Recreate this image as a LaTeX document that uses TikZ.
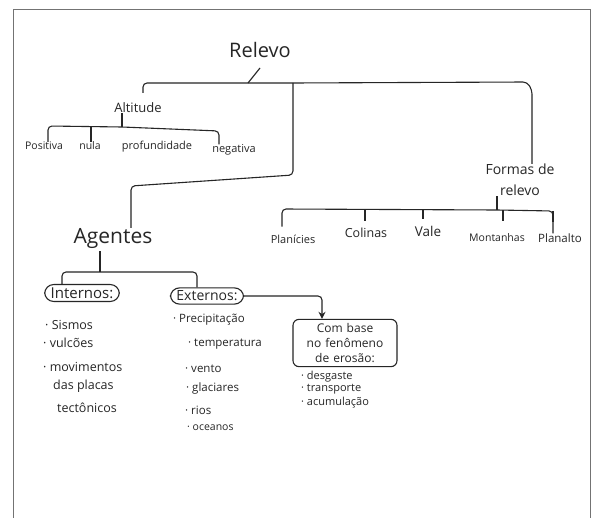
\documentclass[tikz,border=0pt]{standalone}
\usepackage{fontspec}
\setmainfont{Open Sans}
\usetikzlibrary{arrows.meta}
\begin{document}
\begin{tikzpicture}[x=1pt,y=-1pt,
  ink/.style={draw=black!85, line width=1.1pt, rounded corners=4pt},
  frame/.style={draw=black!55, line width=0.9pt},
  lbl/.style={inner sep=0pt, text=black!85, font=\fontsize{#1}{#1}\selectfont},
  lbl/.default=11,
  item/.style={inner sep=0pt, anchor=west, text=black!85, font=\fontsize{#1}{#1}\selectfont},
  item/.default=12,
  pill/.style={draw=black!85, line width=1.1pt, rounded corners=9pt, inner xsep=6pt, inner ysep=3pt, text=black!85, font=\fontsize{#1}{#1}\selectfont},
  boxc/.style={draw=black!85, line width=1.1pt, rounded corners=6pt, inner xsep=6pt, inner ysep=4pt, align=center, text=black!85, font=\fontsize{12}{15}\selectfont}
]
\useasboundingbox (0,0) rectangle (596,518);
\fill[white] (0,0) rectangle (596,518);
\draw[frame] (13,518) -- (13,9) -- (590,9) -- (590,518);

% top level
\node[lbl=20] (relevo) at (260,50) {Relevo};
\node[lbl=13] (altitude) at (138,108) {Altitude};
\node[lbl=14, align=center, font=\fontsize{14}{21}\selectfont] (formas) at (520,180) {Formas de\\relevo};
\node[lbl=21] (agentes) at (113,238) {Agentes};

% altitude children
\node[lbl=10.5] (positiva) at (44,146) {Positiva};
\node[lbl=10.5] (nula) at (90,146) {nula};
\node[lbl=11] (prof) at (157,147) {profundidade};
\node[lbl=11] (negativa) at (234,150) {negativa};

% formas children
\node[lbl=11] (planicies) at (293,239) {Planícies};
\node[lbl=12.5] (colinas) at (366,233) {Colinas};
\node[lbl=13.5] (vale) at (428,231) {Vale};
\node[lbl=10.5] (montanhas) at (497,238) {Montanhas};
\node[lbl=11.5] (planalto) at (560,238) {Planalto};

% agentes children
\node[pill=15] (internos) at (82,293) {Internos:};
\node[pill=14] (externos) at (207,296) {Externos:};
\node[boxc, text width=92pt] (combase) at (345,343) {Com base\\no fenômeno\\de erosão:};

% lists
\node[item=12.5] (i1) at (45,325) {· Sismos};
\node[item=12.5] (i2) at (43,343) {· vulcões};
\node[item=12.5] (i3) at (43,367) {· movimentos};
\node[item=12.5] (i4) at (53,386) {das placas};
\node[item=12.5] (i5) at (57,408) {tectônicos};

\node[item=11.5] (e1) at (173,320) {· Precipitação};
\node[item=11.5] (e2) at (188,344) {· temperatura};
\node[item=11.5] (e3) at (185,369) {· vento};
\node[item=11.5] (e4) at (186,389) {· glaciares};
\node[item=11.5] (e5) at (185,410) {· rios};
\node[item=10.5] (e6) at (187,428) {· oceanos};

\node[item=11] (c1) at (301,377) {· desgaste};
\node[item=11] (c2) at (301,389) {· transporte};
\node[item=11] (c3) at (301,403) {· acumulação};

% junction coordinates
\coordinate (rj) at (248,83);
\coordinate (aj) at (293,83);
\coordinate (aj2) at (131,186);
\coordinate (altj) at (122,127);
\coordinate (fj) at (497,210);
\coordinate (gj) at (100,272);

% Relevo bracket
\draw[ink] (relevo.south |- 0,68) -- (rj);
\draw[ink] (altitude.north -| 143,0) ++(0,-10) -- (143,83) -- (rj) -- (aj) -- (527,82) -- (532,90) -- (formas.north -| 532,0);
\draw[ink] (aj) -- (293,175) -- (aj2) -- (agentes.north -| aj2);

% Altitude bracket
\draw[ink] (altitude.south -| altj) -- (altj);
\draw[ink] (positiva.north -| 48,0) -- (48,126) -- (altj) -- (219,131) -- (negativa.north -| 219,0);
\draw[ink] (nula.north -| 91,0) -- (91,126.5);

% Formas bracket
\draw[ink] (formas.south -| fj) -- (fj);
\draw[ink] (planicies.north -| 282,0) ++(0,-8) -- (282,209) -- (fj) -- (553,211) -- (planalto.north -| 553,0) ++(0,-6);
\draw[ink] (365,221) -- (365,209.5);
\draw[ink] (423,219) -- (423,209.8);
\draw[ink] (503,221) -- (503,210);
\draw[ink, rounded corners=0pt] (553,211) -- (553,222);

% Agentes bracket
\draw[ink] (agentes.south) ++(-13,3) coordinate (as) -- (gj);
\draw[ink] (internos.north -| 62,0) -- (62,272) -- (gj) -- (197,272) -- (externos.north -| 197,0);

% arrow externos -> com base
\draw[ink, -{Stealth[length=7pt,width=7pt]}] (externos.east) -| (combase.north -| 322,0);
\end{tikzpicture}
\end{document}
